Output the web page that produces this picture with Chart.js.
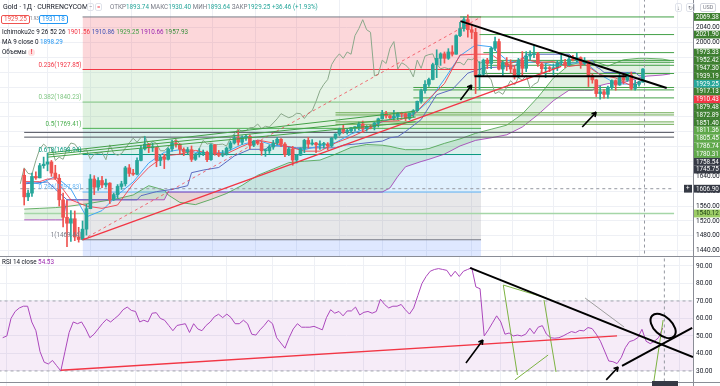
<!DOCTYPE html>
<html>
<head>
<meta charset="utf-8">
<script src="https://cdn.jsdelivr.net/npm/chart.js@4.4.1/dist/chart.umd.min.js"></script>
<style>
  body { margin:0; width:720px; height:386px; overflow:hidden; position:relative; background:#fff; font-family: Roboto, "Liberation Sans", sans-serif; color:#131722; }
  canvas { position:absolute; left:0; }
  .t { position:absolute; white-space:nowrap; font-size:6.3px; line-height:8px; }
  .g { color:#26a69a; }
  .box { position:absolute; font-size:6.3px; line-height:7px; border:1px solid; border-radius:2px; padding:0 2px; background:#fff; }
</style>
</head>
<body>
<canvas id="main" width="720" height="256" style="top:0"></canvas>
<canvas id="rsi" width="720" height="130" style="top:256px"></canvas>
<div style="position:absolute;left:0;top:256px;width:720px;height:1px;background:#8a8d96"></div>
<div style="position:absolute;left:0;top:382px;width:720px;height:1px;background:#8a8d96"></div>

<!-- header / legends -->
<div class="t" style="left:3px;top:3px;font-size:7px">Gold · 1Д · CURRENCYCOM</div>
<div class="t" style="left:87px;top:3px;font-size:6px;color:#787b86;border:1px solid #e0e3eb;border-radius:2px;padding:0 1px;line-height:6px">−</div>
<div class="t" style="left:95px;top:3px;font-size:6px;color:#f23645;border:1px solid #e0e3eb;border-radius:2px;padding:0 1px;line-height:6px">=</div>
<div class="t" style="left:110px;top:3px;color:#787b86">ОТКР<span class="g">1893.74</span> МАКС<span class="g">1930.40</span> МИН<span class="g">1893.64</span> ЗАКР<span class="g">1929.25</span> <span class="g">+36.46 (+1.93%)</span></div>
<div class="box" style="left:1px;top:15px;color:#ef5350;border-color:#ef5350">1929.25</div>
<div class="t" style="left:30px;top:15px;font-size:4.5px;color:#787b86">1.93</div>
<div class="box" style="left:39px;top:15px;color:#2196f3;border-color:#2196f3">1931.18</div>
<div class="t" style="left:2px;top:28px">Ichimoku2c 9 26 52 26 <span style="color:#f23645">1901.56</span> <span style="color:#3f51b5">1910.86</span> <span style="color:#43a047">1929.25</span> <span style="color:#9c27b0">1910.66</span> <span style="color:#388e3c">1957.93</span></div>
<div class="t" style="left:2px;top:38px">MA 9 close 0 <span style="color:#2196f3">1898.29</span></div>
<div class="t" style="left:2px;top:48px">Объемы <span style="display:inline-block;width:7px;height:7px;border-radius:50%;background:#fde2e2;color:#f23645;text-align:center;line-height:7px;font-weight:bold">!</span></div>
<div class="t" style="left:675px;top:3px;font-size:6px;color:#787b86;border:1px solid #e0e3eb;border-radius:2px;padding:0 1px;line-height:7px">↓</div>
<div class="t" style="left:686px;top:3px;font-size:6px;color:#787b86;border:1px solid #e0e3eb;border-radius:2px;padding:0 1px;line-height:7px">↻</div>
<div class="t" style="left:700px;top:3px;font-size:5.5px;color:#787b86;border:1px solid #d1d4dc;border-radius:2px;padding:0 2px;line-height:7px">USD</div>
<div class="t" style="left:2px;top:258px">RSI 14 close <span style="color:#9c27b0">54.53</span></div>
<div class="t" style="left:652px;top:381px;width:26px;height:5px;background:#363a45"></div>

<script>
// candles, Feb 28 .. Oct 9 (daily)
const opens = [1643,1585,1595,1640,1636,1669,1673,1679,1649,1635,
  1577,1530,1514,1526,1477,1470,1498,1553,1633,1611,
  1629,1617,1622,1577,1591,1613,1620,1663,1648,1646,
  1683,1714,1727,1717,1718,1683,1692,1686,1714,1730,
  1727,1713,1707,1712,1686,1700,1702,1705,1685,1725,
  1702,1697,1701,1716,1730,1743,1732,1745,1748,1724,
  1735,1729,1709,1709,1719,1730,1740,1727,1699,1714,
  1684,1697,1715,1737,1727,1730,1725,1726,1727,1722,
  1743,1754,1768,1761,1763,1771,1772,1781,1769,1775,
  1773,1784,1795,1809,1803,1798,1802,1810,1809,1796,
  1810,1817,1842,1871,1888,1901,1941,1958,1970,1958,
  1975,1969,2019,2038,2062,2035,2028,1911,1915,1953,
  1944,1985,2003,1929,1946,1940,1929,1908,1953,1931,
  1964,1968,1970,1943,1930,1933,1930,1932,1946,1947,
  1940,1956,1954,1960,1944,1950,1912,1900,1863,1868,
  1861,1880,1898,1886,1906,1899,1913,1877,1888,1893.74];
const highs = [1660,1603,1649,1652,1675,1692,1703,1683,1670,1645,
  1595,1575,1548,1547,1503,1520,1565,1645,1642,1637,
  1640,1633,1623,1595,1618,1627,1667,1672,1659,1690,
  1724,1747,1729,1730,1719,1698,1700,1717,1738,1738,
  1728,1717,1718,1722,1702,1715,1711,1708,1728,1726,
  1710,1710,1719,1735,1752,1765,1749,1751,1752,1737,
  1736,1735,1714,1725,1737,1745,1742,1731,1718,1721,
  1699,1717,1740,1745,1739,1732,1736,1732,1731,1745,
  1755,1770,1779,1767,1772,1774,1786,1789,1777,1778,
  1786,1797,1818,1815,1806,1818,1812,1813,1812,1811,
  1820,1843,1875,1898,1905,1945,1981,1973,1975,1984,
  1992,2021,2055,2069,2075,2050,2039,1949,1956,1958,
  1988,2015,2010,1950,1960,1954,1939,1958,1976,1976,
  1978,1992,1974,1947,1943,1936,1943,1952,1966,1955,
  1963,1966,1973,1962,1960,1952,1916,1901,1883,1874,
  1883,1900,1900,1917,1918,1920,1921,1899,1897,1930.40];
const lows = [1563,1575,1586,1632,1636,1662,1655,1640,1632,1560,
  1504,1451,1465,1467,1463,1469,1482,1553,1591,1602,
  1610,1611,1567,1575,1581,1605,1614,1640,1643,1644,
  1682,1711,1704,1707,1666,1669,1661,1684,1708,1719,
  1700,1696,1700,1680,1683,1692,1696,1680,1683,1697,
  1693,1693,1697,1711,1727,1724,1726,1737,1715,1720,
  1725,1697,1694,1702,1713,1725,1720,1693,1696,1670,
  1676,1696,1704,1716,1724,1704,1713,1716,1712,1719,
  1740,1750,1756,1754,1757,1762,1765,1758,1762,1768,
  1765,1773,1794,1797,1795,1792,1793,1799,1790,1793,
  1800,1815,1837,1864,1882,1900,1906,1939,1945,1955,
  1964,1969,2016,2031,2015,2011,1863,1874,1910,1930,
  1930,1979,1927,1912,1925,1918,1902,1906,1911,1922,
  1953,1960,1936,1916,1906,1922,1913,1925,1940,1933,
  1938,1951,1948,1931,1941,1882,1891,1855,1848,1851,
  1851,1875,1872,1885,1889,1896,1873,1872,1883,1893.64];
const closes = [1585,1595,1640,1636,1669,1673,1679,1649,1635,1577,
  1530,1514,1526,1477,1470,1498,1553,1633,1611,1629,
  1617,1622,1577,1591,1613,1620,1663,1648,1646,1683,
  1714,1727,1717,1718,1683,1692,1686,1714,1730,1727,
  1713,1707,1712,1686,1700,1702,1705,1685,1725,1702,
  1697,1701,1716,1730,1743,1732,1745,1748,1724,1735,
  1729,1709,1709,1719,1730,1740,1727,1699,1714,1684,
  1697,1715,1737,1727,1730,1725,1726,1727,1722,1743,
  1754,1768,1761,1763,1771,1772,1781,1769,1775,1773,
  1784,1795,1809,1803,1798,1802,1810,1809,1796,1810,
  1817,1842,1871,1888,1901,1941,1958,1970,1958,1975,
  1969,2019,2038,2062,2035,2028,1911,1915,1953,1944,
  1985,2003,1929,1946,1940,1929,1908,1953,1931,1964,
  1968,1970,1943,1930,1933,1930,1932,1946,1947,1940,
  1956,1954,1960,1944,1950,1912,1900,1863,1868,1861,
  1880,1898,1886,1906,1899,1913,1877,1888,1893.74,1929.25];
const rsiValues = [49,50,60,64,66,67,67,58,53,41,
  35,34,36,33,30,41,52,58,57,58,
  54,49,51,54,57,59.5,58,60,62,65,
  66.5,64.6,64,58,59,58,63,63.3,60,59,
  56,53,56,56.5,57,52,57,54,53,56,
  58,61,62.4,60.5,62.5,60.5,57,57,59,57,
  51,50.5,53.5,56,59,57,49,46,43,49,
  54,57,55,55,55,55.5,54.5,53.5,60.5,65,
  63,64,61.5,64.3,64.3,66.5,62,63.5,64,63,
  64,71,68,66,67,67,68,65,62.5,66,
  73,80,84,87,88,88.5,88,87.5,84,87,
  84,87,88,89,78,77,50,53.5,57.5,61.5,
  58,51,51.7,50,50.5,50,51,54.4,51.3,55,
  55.9,51,49,48.7,49,50,51.3,52.5,51.9,53.2,
  52.9,54.8,54.2,51,47,41.4,35.7,35.3,34.2,37.6,
  43.3,46.8,47.5,49,53.8,47,45.6,47,49,54.53];

// indicator lines, read at sample bars
const tenkanPts = [[0,1626],[4,1626],[6,1633],[8,1633],[12,1577],[16,1560],[20,1554],[24,1563],[28,1620],[32,1664],[36,1695],[40,1700],[44,1710],[48,1701],[52,1701],[56,1721],[60,1738],[64,1730],[68,1720],[72,1708],[76,1708],[80,1730],[84,1746],[88,1765],[92,1788],[96,1790],[100,1805],[104,1849],[108,1890],[112,1967],[116,1969],[120,1969],[124,1939],[128,1958],[132,1947],[136,1949],[140,1936],[144,1942],[148,1914],[152,1905],[156,1884],[159,1901.56]];
const kijunPts = [[0,1620],[6,1625],[11,1577],[29,1577],[30,1588],[34,1599],[38,1605],[42,1615],[43,1650],[46,1657],[50,1664],[54,1695],[58,1713],[62,1713],[63,1722],[66,1722],[70,1717],[80,1717],[82,1724],[86,1728],[92,1735],[94,1744],[96,1747],[98,1761],[102,1793],[106,1860],[110,1874],[114,1918],[118,1932],[126,1937],[128,1956],[129,1969],[140,1969],[142,1951],[143,1944],[146,1953],[147,1935],[148,1929],[149,1920],[157,1920],[158,1911],[159,1910.86]];
const ma9Pts = [[0,1625],[4,1620],[8,1640],[12,1606],[16,1531],[20,1548],[24,1590],[28,1625],[32,1676],[36,1705],[40,1712],[44,1705],[48,1702],[52,1706],[56,1726],[60,1737],[64,1724],[68,1719],[72,1712],[76,1722],[80,1731],[84,1754],[88,1770],[92,1787],[96,1801],[100,1806],[104,1843],[108,1902],[112,1965],[116,1994],[120,1989],[124,1953],[128,1944],[132,1950],[136,1939],[140,1944],[144,1948],[148,1914],[152,1890],[156,1888],[159,1898.29]];
const cloudX = [0,4,8,10,11,16,20,24,28,32,36,37,40,44,48,52,56,60,64,68,72,76,80,84,88,92,94,96,98,102,104,108,112,116,120,124,128,132,136,140,144,146,147,150,154,158,160,164,166];
const leadA = [1552,1554,1556,1558,1559,1566,1573,1580,1590,1615,1603,1590,1570,1564,1578,1594,1616,1643,1660,1677,1681,1684,1700,1718,1726,1724,1721,1716,1712,1712,1715,1729,1741,1756,1767,1778,1808,1853,1905,1940,1949,1951,1948,1937,1954,1958,1958,1956,1952];
const leadB = [1523,1523,1523,1523,1577,1577,1577,1577,1577,1577,1577,1598,1598,1598,1598,1598,1598,1598,1598,1598,1598,1598,1598,1598,1598,1598,1609,1640,1666,1680,1686,1700,1722,1737,1744,1752,1773,1806,1844,1872,1872,1872,1882,1890,1893,1905,1910,1913,1916];

// fibonacci retracement
const fibRatios = [0, 0.236, 0.382, 0.5, 0.618, 0.786, 1, 1.618];
const fibValues = [2069.38, 1927.85, 1840.23, 1769.41, 1698.94, 1597.83, 1469.44, 1098.61];
const fibRange = [15, 117.4];
const fibLineColors = ['#787b86','#f23645','#81c784','#4caf50','#089981','#64b5f6','#787b86','#2962ff'];
const fibFillColors = [null,'rgba(242,54,69,0.2)','rgba(129,199,132,0.2)','rgba(76,175,80,0.18)','rgba(8,153,129,0.15)','rgba(100,181,246,0.2)','rgba(120,123,134,0.18)','rgba(41,98,255,0.15)'];

// horizontal levels
const levelValues = [2069.38,2021.90,1973.33,1952.42,1947.30,1939.19,1917.13,1879.48,1872.89,1851.40,1811.36,1805.45,1786.74,1780.31,1758.54,1745.75,1540.12];
const levelStarts = [112,117,118,118,118,118,118,100,100,100,80,80,80,80,0,0,0];
const levelColors = ['#43a047','#43a047','#43a047','#43a047','#43a047','#43a047','#43a047','#43a047','#43a047','#43a047','#6aa84f','#6aa84f','#6aa84f','#6aa84f','#50535e','#50535e','#a5d6a7'];

// price tags on the axis
const tagValues = [2069.38,2021.90,1973.33,1952.42,1947.30,1939.19,1929.25,1917.13,1910.43,1879.48,1872.89,1851.40,1811.36,1805.45,1786.74,1780.31,1758.54,1745.75,1606.90,1540.12];
const tagColors = ['#3d7f2f','#3d7f2f','#3d7f2f','#3d7f2f','#3d7f2f','#3d7f2f','#26a69a','#3d7f2f','#f23645','#3d7f2f','#3d7f2f','#3d7f2f','#5fa84a','#5fa84a','#5fa84a','#5fa84a','#363a45','#363a45','#363a45','#9ccc65'];

const priceTicks = [1440,1480,1520,1560,1600,1640,1680,1720,1760,1800,1840,1880,1920,1960,2000,2040];
const rsiTicks = [30,40,50,60,70,80,90];
const timeGrid = [1,11,23,32,43,54,65,75,87,97,110,120,131,141,153,163];

// drawings
const redTrend = [[15,1469.4],[138,1936]];
const fibDiagonal = [[15,1469.44],[117.4,2069.38]];
const fanLines = [[[6.1,1703],[100.6,1816]],[[6.1,1698],[100.6,1800]],[[6.1,1692],[100.6,1787]]];
const blackLines = [[[112.1,2058],[165.1,1878]],[[115.7,1910],[154.8,1910]]];
const priceArrows = [[[112.1,1846],[115,1886]],[[143.4,1773],[147,1813]]];
const crossX = 159.4, crossPrice = 1606.90;
const rsiRedTrend = [[14,30.4],[148,50]];
const rsiBlackLines = [[[112.6,88.9],[166.3,38]],[[149.2,32.9],[166.1,54.6]]];
const rsiGreenLines = [[[120.6,79.1],[124,27.7]],[[130.4,70.6],[133.3,29.4]],[[123.4,24.9],[131.4,39.1]],[[120.6,79.1],[130.9,71.7]],[[140.3,71.7],[149.7,55.1]],[[156.7,21.4],[159.1,59.1]]];
const rsiArrows = [[[111.6,34.6],[115.7,47.7]],[[145.4,24.9],[148.3,32.3]]];
const rsiLoop = [159.1, 55.7];

const GREEN = '#26a69a', RED = '#ef5350';
const candleColors = closes.map((c, i) => c >= opens[i] ? GREEN : RED);
const pts = arr => arr.map(([x, y]) => ({x, y}));

function line(data, color, width, extra) {
  return Object.assign({type: 'line', data, borderColor: color, borderWidth: width, pointRadius: 0, fill: false, tension: 0}, extra || {});
}

function arrow(ctx, x0, y0, x1, y1) {
  const a = Math.atan2(y1 - y0, x1 - x0);
  ctx.beginPath();
  ctx.moveTo(x0, y0); ctx.lineTo(x1, y1);
  ctx.moveTo(x1, y1); ctx.lineTo(x1 - 5 * Math.cos(a - 0.5), y1 - 5 * Math.sin(a - 0.5));
  ctx.moveTo(x1, y1); ctx.lineTo(x1 - 5 * Math.cos(a + 0.5), y1 - 5 * Math.sin(a + 0.5));
  ctx.stroke();
}

function xScale() {
  return {
    type: 'linear', min: -0.65, max: 166.3,
    afterBuildTicks: s => { s.ticks = timeGrid.map(v => ({value: v})); },
    ticks: {display: false},
    grid: {color: '#eef0f5', drawTicks: false},
    border: {display: false},
    afterFit: s => { s.height = 0; s.paddingLeft = 0; s.paddingRight = 0; }
  };
}
function yScale(min, max, ticks) {
  return {
    position: 'right', min, max,
    afterBuildTicks: s => { s.ticks = ticks.map(v => ({value: v})); },
    ticks: {font: {size: 6.5, family: 'Roboto'}, color: '#131722', padding: 3, autoSkip: false, callback: v => v.toFixed(2)},
    grid: {color: '#eef0f5', drawTicks: false},
    border: {color: '#8a8d96'},
    afterFit: s => { s.width = 27; s.paddingTop = 0; s.paddingBottom = 0; }
  };
}

// ---------- price pane ----------
const mainSets = [];
fibValues.forEach((v, k) => mainSets.push(line([{x: fibRange[0], y: v}, {x: fibRange[1], y: v}], fibLineColors[k], k === 7 ? 0 : 1,
  {fill: k === 0 ? false : '-1', backgroundColor: fibFillColors[k], order: 100})));
mainSets.push(line(cloudX.map((x, k) => ({x, y: leadA[k]})), 'rgba(67,160,71,0.8)', 1, {order: 90}));
mainSets.push(line(cloudX.map((x, k) => ({x, y: leadB[k]})), 'rgba(156,39,176,0.75)', 1,
  {order: 90, fill: {target: '-1', above: 'rgba(244,67,54,0.12)', below: 'rgba(67,160,71,0.16)'}}));
levelValues.forEach((v, k) => mainSets.push(line([{x: levelStarts[k], y: v}, {x: 167, y: v}], levelColors[k], k === 16 ? 1.5 : 1, {order: 60})));
mainSets.push(line([{x: -1, y: crossPrice}, {x: 167, y: crossPrice}], '#9598a1', 1, {borderDash: [3, 3], order: 58}));
mainSets.push(line([{x: crossX, y: 1400}, {x: crossX, y: 2200}], '#9598a1', 1, {borderDash: [3, 3], order: 58}));
mainSets.push(line(closes.map((c, i) => ({x: i - 26, y: c})), '#8aa88a', 1, {order: 55}));
mainSets.push(line(pts(kijunPts), '#5c6bc0', 1, {order: 50}));
mainSets.push(line(pts(ma9Pts), '#42a5f5', 1, {order: 49}));
mainSets.push(line(pts(tenkanPts), 'rgba(242,54,69,0.85)', 1, {order: 48}));
mainSets.push({type: 'bar', data: closes.map((c, i) => ({x: i, y: [lows[i], highs[i]]})), backgroundColor: candleColors, barThickness: 1, grouped: false, order: 20});
mainSets.push({type: 'bar', data: closes.map((c, i) => ({x: i, y: [opens[i], c]})), backgroundColor: candleColors, barThickness: 3, grouped: false, minBarLength: 1, order: 19});
mainSets.push(line(pts(fibDiagonal), 'rgba(242,54,69,0.7)', 1, {borderDash: [3, 3], order: 15}));
mainSets.push(line(pts(redTrend), '#f23645', 1.3, {order: 14}));
fanLines.forEach(l => mainSets.push(line(pts(l), '#43a047', 1, {order: 13})));
blackLines.forEach(l => mainSets.push(line(pts(l), '#000', 2, {order: 5})));

const mainDeco = {
  id: 'mainDeco',
  afterDatasetsDraw(chart) {
    const {ctx, scales: {x, y}} = chart;
    ctx.save();
    ctx.font = '6.3px Roboto';
    ctx.textAlign = 'right';
    ctx.textBaseline = 'bottom';
    fibValues.forEach((v, k) => {
      if (k === 0 || k === 7) return;
      ctx.fillStyle = fibLineColors[k];
      ctx.fillText(fibRatios[k] + '(' + v.toFixed(2) + ')', x.getPixelForValue(fibRange[0]) - 1, y.getPixelForValue(v) - 1);
    });
    ctx.strokeStyle = '#000';
    ctx.lineWidth = 1.6;
    priceArrows.forEach(a => arrow(ctx, x.getPixelForValue(a[0][0]), y.getPixelForValue(a[0][1]), x.getPixelForValue(a[1][0]), y.getPixelForValue(a[1][1])));
    ctx.restore();
  },
  afterDraw(chart) {
    const {ctx, scales: {y}} = chart;
    ctx.save();
    ctx.font = '6.3px Roboto';
    ctx.textBaseline = 'middle';
    let prev = -99;
    tagValues.forEach((v, k) => {
      let py = y.getPixelForValue(v);
      if (py < prev + 7.8) py = prev + 7.8;
      prev = py;
      ctx.fillStyle = tagColors[k];
      ctx.fillRect(694, py - 3.9, 26, 7.8);
      ctx.fillStyle = k === 19 ? '#1b3d12' : '#fff';
      ctx.fillText(v.toFixed(2), 696, py + 0.3);
      if (v === crossPrice) {
        ctx.fillStyle = '#363a45';
        ctx.fillRect(684, py - 3.9, 8, 7.8);
        ctx.fillStyle = '#fff';
        ctx.fillText('+', 686, py);
      }
    });
    ctx.restore();
  }
};

new Chart(document.getElementById('main'), {
  type: 'line',
  data: {datasets: mainSets},
  options: {
    responsive: false, animation: false, events: [],
    layout: {padding: 0},
    plugins: {legend: {display: false}, tooltip: {enabled: false}},
    scales: {x: xScale(), y: yScale(1425.7, 2115, priceTicks)}
  },
  plugins: [mainDeco]
});

// ---------- RSI pane ----------
const rsiSets = [
  line([{x: -1, y: 70}, {x: 167, y: 70}], '#a3a6af', 1, {borderDash: [3, 3], order: 100}),
  line([{x: -1, y: 30}, {x: 167, y: 30}], '#a3a6af', 1, {borderDash: [3, 3], order: 100, fill: '-1', backgroundColor: 'rgba(156,39,176,0.09)'}),
  line(rsiValues.map((v, i) => ({x: i, y: v})), '#ab47bc', 1, {order: 50}),
  line(pts(rsiRedTrend), '#f23645', 1.3, {order: 40}),
  line([{x: crossX, y: 0}, {x: crossX, y: 100}], '#9598a1', 1, {borderDash: [3, 3], order: 58})
];
rsiGreenLines.forEach((l, k) => rsiSets.push(line(pts(l), k === 4 ? '#9e9e9e' : '#7cb342', 1, {order: 45})));
rsiBlackLines.forEach(l => rsiSets.push(line(pts(l), '#000', 2, {order: 5})));

const rsiDeco = {
  id: 'rsiDeco',
  afterDatasetsDraw(chart) {
    const {ctx, scales: {x, y}} = chart;
    ctx.save();
    ctx.strokeStyle = '#000';
    ctx.lineWidth = 1.6;
    rsiArrows.forEach(a => arrow(ctx, x.getPixelForValue(a[0][0]), y.getPixelForValue(a[0][1]), x.getPixelForValue(a[1][0]), y.getPixelForValue(a[1][1])));
    ctx.lineWidth = 2;
    ctx.beginPath();
    ctx.ellipse(x.getPixelForValue(rsiLoop[0]), y.getPixelForValue(rsiLoop[1]), 15, 9, 0.75, 0, Math.PI * 2);
    ctx.stroke();
    ctx.restore();
  }
};

new Chart(document.getElementById('rsi'), {
  type: 'line',
  data: {datasets: rsiSets},
  options: {
    responsive: false, animation: false, events: [],
    layout: {padding: 0},
    plugins: {legend: {display: false}, tooltip: {enabled: false}},
    scales: {x: xScale(), y: yScale(21.4, 95.7, rsiTicks)}
  },
  plugins: [rsiDeco]
});
</script>
</body>
</html>
